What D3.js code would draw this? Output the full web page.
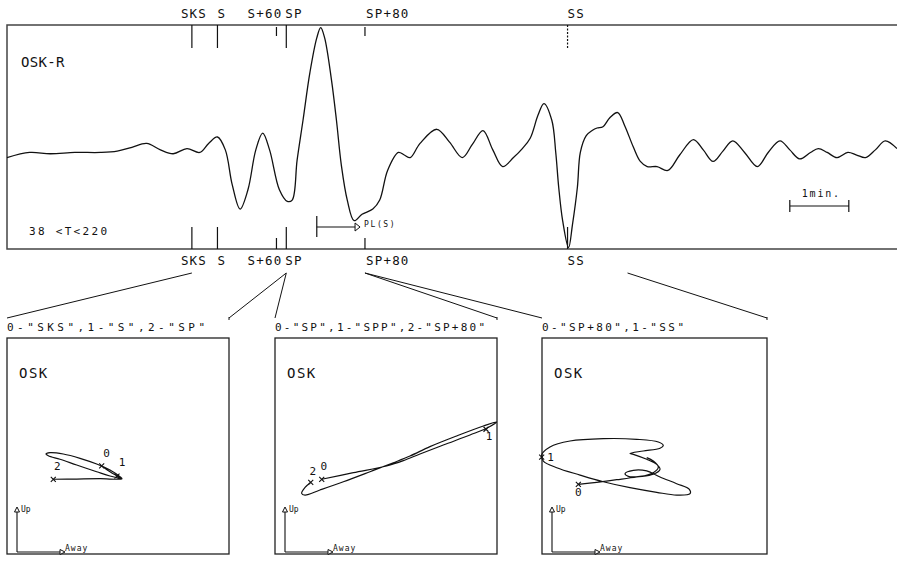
<!DOCTYPE html>
<html>
<head>
<meta charset="utf-8">
<script src="https://cdn.jsdelivr.net/npm/d3@7"></script>
<style>
  html, body { margin: 0; padding: 0; background: #fff; }
  svg text { font-family: "DejaVu Sans Mono", "Liberation Mono", monospace; fill: #111; }
</style>
</head>
<body>
<svg id="chart" width="897" height="566"></svg>
<script>
// Radial component record at OSK: seconds from trace start, relative amplitude
const traceTime = [0,23,44,69,95,112,127,142,156,169,183,196,205,214,222,229,237,245,253,260,
  267,277,285,290,295,301,308,315,319,323,330,335,340,346,353,361,372,379,387,398,
  404,410,420,437,450,463,473,484,494,504,515,524,532,540,546,554,558,561,565,571,
  575,580,583,589,595,600,606,613,621,628,637,644,651,661,672,684,698,708,718,728,
  738,750,763,774,786,796,806,817,825,834,844,855,864,873,883,893,905];
const traceAmp = [-0.03,0.01,0.00,0.01,0.01,0.02,0.05,0.08,0.03,0.00,0.04,0.01,0.08,0.13,0.03,-0.24,-0.43,-0.28,0.03,0.16,
  0.03,-0.28,-0.37,-0.36,-0.05,0.26,0.63,0.90,0.98,0.90,0.57,0.26,-0.09,-0.36,-0.52,-0.47,-0.43,-0.36,-0.13,0.01,
  -0.01,-0.03,0.08,0.19,0.09,-0.03,0.07,0.18,0.03,-0.10,-0.03,0.04,0.12,0.30,0.39,0.26,0.01,-0.26,-0.52,-0.73,
  -0.55,-0.26,0.01,0.14,0.18,0.20,0.21,0.28,0.32,0.22,0.05,-0.06,-0.10,-0.10,-0.13,-0.01,0.11,0.03,-0.06,0.02,
  0.10,0.01,-0.10,0.01,0.10,0.03,-0.04,0.01,0.04,0.01,-0.03,0.01,-0.01,-0.03,0.03,0.10,0.04];

// Phase arrivals (s) and whether the marker is a full-length tick
const phaseNames = ["SKS", "S", "S+60", "SP", "SP+80", "SS"];
const phaseTimes = [188, 214, 274, 284, 364, 570];
const phaseMajor = [true, true, false, true, false, true];

// Long-period band and labels
const stationLabel = "OSK-R";
const bandLabel = "38 <T<220";
const plStart = 315, plEnd = 359;   // PL(S) window start and arrow end (s)
const scaleBarStart = 796, scaleBarLength = 60; // 1 min bar (s)

// Particle-motion windows: start / end times (s) and their headers
const windowStart = [188, 284, 364];
const windowEnd = [284, 364, 631];
const windowLabels = ['0-"SKS",1-"S",2-"SP"', '0-"SP",1-"SPP",2-"SP+80"', '0-"SP+80",1-"SS"'];

// Particle motion, window 1 (Away, Up)
const pm1Away = [-0.147,-0.072,0.003,0.033,-0.072,-0.192,-0.372,-0.523,-0.628,-0.649,-0.613,-0.493,-0.342,-0.192,-0.072,0.018,0.036,-0.162,-0.372,-0.583];
const pm1Up   = [-0.185,-0.238,-0.284,-0.303,-0.278,-0.238,-0.176,-0.123,-0.090,-0.074,-0.062,-0.074,-0.114,-0.167,-0.222,-0.284,-0.303,-0.303,-0.306,-0.308];
const pm1MarkNames = ["0", "1", "2"];
const pm1MarkAway = [-0.147, -0.009, -0.583];
const pm1MarkUp   = [-0.185, -0.278, -0.308];

// Particle motion, window 2
const pm2Away = [-0.579,-0.294,0.006,0.156,0.306,0.516,0.757,0.907,0.997,0.877,0.637,0.396,0.216,0.066,-0.144,-0.384,-0.595,-0.730,-0.760,-0.736,-0.678];
const pm2Up   = [-0.308,-0.247,-0.185,-0.136,-0.074,0.009,0.102,0.164,0.222,0.185,0.093,-0.006,-0.093,-0.155,-0.238,-0.331,-0.407,-0.454,-0.438,-0.392,-0.336];
const pm2MarkNames = ["0", "1", "2"];
const pm2MarkAway = [-0.579, 0.901, -0.678];
const pm2MarkUp   = [-0.308, 0.155, -0.336];

// Particle motion, window 3
const pm3Away = [-0.677,-0.514,-0.336,-0.158,-0.011,0.049,0.020,-0.069,-0.188,-0.218,-0.100,0.049,0.078,0.034,-0.158,-0.455,-0.751,-0.929,-1.003,-0.988,-0.869,-0.662,-0.455,-0.218,0.020,0.197,0.316,0.310,0.197,0.049,-0.069,-0.188,-0.262,-0.233,-0.129,-0.011,0.034,-0.011,-0.069];
const pm3Up   = [-0.355,-0.336,-0.312,-0.287,-0.262,-0.216,-0.170,-0.123,-0.077,-0.068,-0.046,-0.021,0.006,0.037,0.062,0.068,0.046,-0.009,-0.083,-0.139,-0.201,-0.269,-0.331,-0.386,-0.429,-0.454,-0.441,-0.401,-0.349,-0.287,-0.231,-0.225,-0.256,-0.281,-0.281,-0.247,-0.194,-0.139,-0.108];
const pm3MarkNames = ["0", "1"];
const pm3MarkAway = [-0.677, -1.003];
const pm3MarkUp   = [-0.355, -0.102];

const svg = d3.select("#chart");
const ink = "#111";

// ---------- seismogram ----------
const frame = { left: 7, right: 897, top: 25, bottom: 249 };
const x = d3.scaleLinear().domain([0, 905]).range([frame.left, frame.right]);
const y = d3.scaleLinear().domain([-0.74, 1.0]).range([frame.bottom, frame.top]);

svg.append("path")
  .attr("d", `M${frame.right},${frame.top}H${frame.left}V${frame.bottom}H${frame.right}`)
  .attr("fill", "none").attr("stroke", "#444").attr("stroke-width", 1.5);

const traceLine = d3.line()
  .x(d => x(d[0])).y(d => y(d[1]))
  .curve(d3.curveCatmullRom.alpha(0.5));

svg.append("path")
  .datum(d3.zip(traceTime, traceAmp))
  .attr("d", traceLine)
  .attr("fill", "none").attr("stroke", ink).attr("stroke-width", 1.3);

// phase ticks along top and bottom edges
const phases = phaseNames.map((n, i) => ({ name: n, t: phaseTimes[i], major: phaseMajor[i] }));
const labelShift = { "SKS": -11, "S": 0, "S+60": -29, "SP": -1, "SP+80": 1, "SS": 0 };

svg.append("g").selectAll("line").data(phases).join("line")
  .attr("x1", d => x(d.t)).attr("x2", d => x(d.t))
  .attr("y1", d => d.major ? frame.top : frame.top + 2)
  .attr("y2", d => d.major ? frame.top + 23 : frame.top + 11)
  .attr("stroke", ink).attr("stroke-width", 1.2)
  .attr("stroke-dasharray", d => d.name === "SS" ? "2,1.5" : null);

svg.append("g").selectAll("line").data(phases).join("line")
  .attr("x1", d => x(d.t)).attr("x2", d => x(d.t))
  .attr("y1", d => d.major ? frame.bottom - 22 : frame.bottom - 11)
  .attr("y2", frame.bottom)
  .attr("stroke", ink).attr("stroke-width", 1.2);

const phaseFont = { size: 12.5, spacing: 1.2 };
[18, 265].forEach(base => {
  svg.append("g").selectAll("text").data(phases).join("text")
    .attr("x", d => x(d.t) + labelShift[d.name])
    .attr("y", base)
    .attr("font-size", phaseFont.size)
    .attr("letter-spacing", phaseFont.spacing)
    .text(d => d.name);
});

svg.append("text").attr("x", 21).attr("y", 67)
  .attr("font-size", 14).attr("letter-spacing", 0.3).text(stationLabel);

svg.append("text").attr("x", 29).attr("y", 235)
  .attr("font-size", 11).attr("letter-spacing", 2.3).text(bandLabel);

// PL(S) window arrow
const plY = 227;
svg.append("line").attr("x1", x(plStart)).attr("x2", x(plStart))
  .attr("y1", plY - 11).attr("y2", plY + 10).attr("stroke", ink).attr("stroke-width", 1.2);
svg.append("line").attr("x1", x(plStart)).attr("x2", x(plEnd))
  .attr("y1", plY).attr("y2", plY).attr("stroke", ink).attr("stroke-width", 1.2);
svg.append("path")
  .attr("d", `M${x(plEnd) - 5},${plY - 4}L${x(plEnd)},${plY}L${x(plEnd) - 5},${plY + 4}Z`)
  .attr("fill", "#fff").attr("stroke", ink).attr("stroke-width", 1);
svg.append("text").attr("x", x(plEnd) + 4).attr("y", plY)
  .attr("font-size", 8).attr("letter-spacing", 1.6).text("PL(S)");

// one-minute scale bar
const sbY = 206;
const sb0 = x(scaleBarStart), sb1 = x(scaleBarStart + scaleBarLength);
svg.append("path")
  .attr("d", `M${sb0},${sbY - 6}V${sbY + 6}M${sb0},${sbY}H${sb1}M${sb1},${sbY - 6}V${sbY + 6}`)
  .attr("fill", "none").attr("stroke", ink).attr("stroke-width", 1.2);
svg.append("text").attr("x", (sb0 + sb1) / 2 + 2).attr("y", 197)
  .attr("text-anchor", "middle").attr("font-size", 10).attr("letter-spacing", 1.8).text("1min.");

// ---------- particle-motion panels ----------
const panels = [
  { x: 7,   y: 338, w: 222, h: 216, head: 198,
    away: pm1Away, up: pm1Up, marks: pm1MarkNames.map((n, i) => ({ n, a: pm1MarkAway[i], u: pm1MarkUp[i] })),
    labelOffset: { "0": [5, -9], "1": [5, -10], "2": [4, -9] } },
  { x: 275, y: 338, w: 222, h: 216, head: 210,
    away: pm2Away, up: pm2Up, marks: pm2MarkNames.map((n, i) => ({ n, a: pm2MarkAway[i], u: pm2MarkUp[i] })),
    labelOffset: { "0": [2, -9], "1": [3, 11], "2": [2, -7] } },
  { x: 542, y: 338, w: 225, h: 216, head: 142,
    away: pm3Away, up: pm3Up, marks: pm3MarkNames.map((n, i) => ({ n, a: pm3MarkAway[i], u: pm3MarkUp[i] })),
    labelOffset: { "0": [0, 12], "1": [9, 4] } }
];

const linkTopY = 273, linkEndY = 318;

panels.forEach((p, i) => {
  const g = svg.append("g");

  // links from the analysis window on the trace to the panel
  g.append("line").attr("x1", x(windowStart[i])).attr("y1", linkTopY)
    .attr("x2", p.x).attr("y2", linkEndY).attr("stroke", ink).attr("stroke-width", 1);
  g.append("line").attr("x1", x(windowEnd[i])).attr("y1", linkTopY)
    .attr("x2", p.x + p.w).attr("y2", linkEndY).attr("stroke", ink).attr("stroke-width", 1);
  g.append("line").attr("x1", p.x + p.w).attr("y1", linkEndY - 1)
    .attr("x2", p.x + p.w).attr("y2", linkEndY + 2).attr("stroke", ink).attr("stroke-width", 1);

  g.append("text").attr("x", p.x).attr("y", 331)
    .attr("font-size", 11).attr("textLength", p.head).attr("lengthAdjust", "spacing")
    .text(windowLabels[i]);

  g.append("rect").attr("x", p.x).attr("y", p.y).attr("width", p.w).attr("height", p.h)
    .attr("fill", "none").attr("stroke", "#222").attr("stroke-width", 1.3);

  g.append("text").attr("x", p.x + 12).attr("y", p.y + 40)
    .attr("font-size", 14).attr("letter-spacing", 1.5).text("OSK");

  const sx = d3.scaleLinear().domain([-1, 1]).range([p.x, p.x + p.w]);
  const sy = d3.scaleLinear().domain([-1, 1]).range([p.y + p.h, p.y]);

  const pmLine = d3.line().x(d => sx(d[0])).y(d => sy(d[1]))
    .curve(d3.curveCatmullRom.alpha(0.5));
  g.append("path").datum(d3.zip(p.away, p.up)).attr("d", pmLine)
    .attr("fill", "none").attr("stroke", ink).attr("stroke-width", 1.2);

  p.marks.forEach(m => {
    const mx = sx(m.a), my = sy(m.u), r = 2.5;
    g.append("path").attr("d", `M${mx - r},${my - r}L${mx + r},${my + r}M${mx - r},${my + r}L${mx + r},${my - r}`)
      .attr("stroke", ink).attr("stroke-width", 1.1);
    const off = p.labelOffset[m.n];
    g.append("text").attr("x", mx + off[0]).attr("y", my + off[1])
      .attr("text-anchor", "middle").attr("font-size", 11).text(m.n);
  });

  // Up / Away direction key
  const ox = p.x + 10, oy = p.y + p.h - 2;
  g.append("path").attr("d", `M${ox},${oy}V${oy - 40}M${ox},${oy}H${ox + 43}`)
    .attr("fill", "none").attr("stroke", ink).attr("stroke-width", 1.1);
  g.append("path").attr("d", `M${ox - 2.5},${oy - 40}L${ox},${oy - 45}L${ox + 2.5},${oy - 40}Z`)
    .attr("fill", "#fff").attr("stroke", ink).attr("stroke-width", 1);
  g.append("path").attr("d", `M${ox + 43},${oy - 2.5}L${ox + 48},${oy}L${ox + 43},${oy + 2.5}Z`)
    .attr("fill", "#fff").attr("stroke", ink).attr("stroke-width", 1);
  g.append("text").attr("x", ox + 4).attr("y", oy - 40).attr("font-size", 8).text("Up");
  g.append("text").attr("x", ox + 48).attr("y", oy - 1).attr("font-size", 8)
    .attr("letter-spacing", 1).text("Away");
});
</script>
</body>
</html>
